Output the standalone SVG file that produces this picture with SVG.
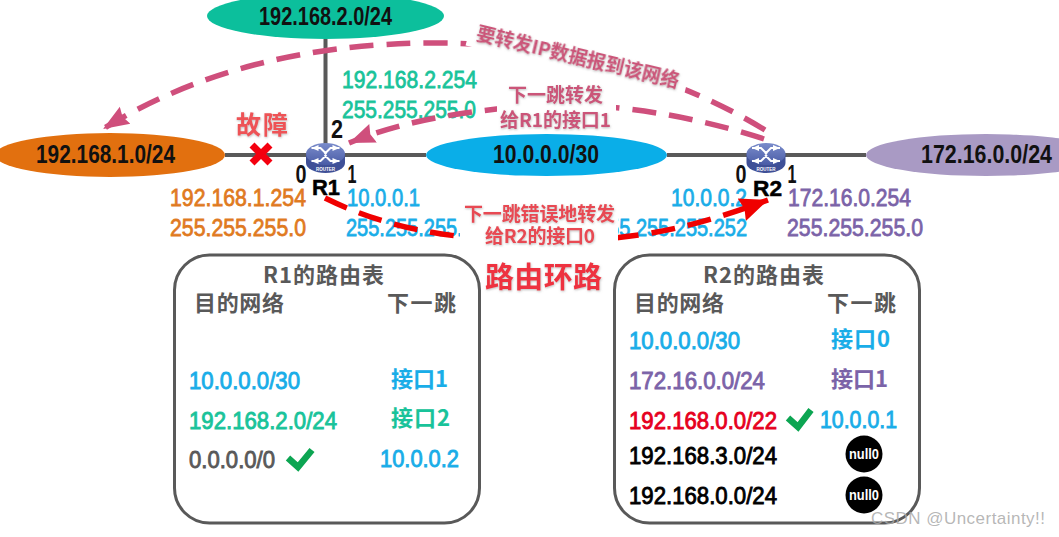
<svg xmlns="http://www.w3.org/2000/svg" width="1059" height="537" viewBox="0 0 1059 537">
<style>
text{font-family:"Liberation Sans","Noto Sans CJK SC",sans-serif}
.net{font-size:25px;font-weight:700;fill:#111;text-anchor:start}
.ip{font-size:24px;stroke-width:.8px}
.t{font-size:24px;stroke-width:.9px}
.cjk{font-family:"Noto Sans CJK SC","Liberation Sans",sans-serif;font-weight:700;stroke-width:.15px}
.hd{font-size:22px;fill:#595959}
.port{font-size:25px;font-weight:700;fill:#111}
.rn{font-size:22px;font-weight:700;fill:#000}
.link{stroke:#595959;stroke-width:4;fill:none}
.dp{stroke:#cf4f7c;stroke-width:5.5;fill:none;stroke-dasharray:24 13}
.dr{stroke:#f00000;stroke-width:5.5;fill:none;stroke-dasharray:24 13}
.lab{font-size:19px;fill:#cb5579;filter:url(#sh)}
.labr{font-size:19px;fill:#e84a52;filter:url(#sh)}
.box{fill:#fff;stroke:#595959;stroke-width:3}
.g{fill:#19c39a;stroke:#19c39a}.o{fill:#e07a1f;stroke:#e07a1f}.b{fill:#19ade8;stroke:#19ade8}.p{fill:#7b63a8;stroke:#7b63a8}
.gy{fill:#595959;stroke:#595959}.r{fill:#e6001e;stroke:#e6001e}.k{fill:#000;stroke:#000}
.chk{fill:none;stroke:#0ca552;stroke-width:6.5}
</style>
<defs>
<filter id="sh" x="-10%" y="-20%" width="120%" height="150%"><feDropShadow dx="0.5" dy="1" stdDeviation="1" flood-color="#888" flood-opacity=".55"/></filter>
<linearGradient id="rg" x1="0" y1="0" x2="0" y2="1"><stop offset="0" stop-color="#7a8ccb"/><stop offset="1" stop-color="#4a5ca6"/></linearGradient>
<marker id="ap" markerUnits="userSpaceOnUse" markerWidth="28" markerHeight="22" refX="26" refY="11" orient="auto"><path d="M0 1L26 11L0 21L3 11Z" fill="#cf4f7c"/></marker>
<marker id="ar" markerUnits="userSpaceOnUse" markerWidth="30" markerHeight="26" refX="28" refY="13" orient="auto"><path d="M0 1L28 13L0 25L3 13Z" fill="#f00000"/></marker>
<g id="router">
<path d="M-19.5 -3V6A19.5 10 0 0 0 19.5 6V-3Z" fill="#3f5097"/>
<ellipse cx="0" cy="-3" rx="19.5" ry="11" fill="url(#rg)"/>
<path d="M-14 -9H-5L-3 -7L1 -3M14 -9H5L3 -7L-1 -3M-14 4H-5L-3 2L1 -2M14 4H5L3 2L-1 -2" fill="none" stroke="#fff" stroke-width="2"/>
<path d="M-7 -12L-14 -9L-7 -6ZM7 -12L14 -9L7 -6ZM-7 1L-14 4L-7 7ZM7 1L14 4L7 7Z" fill="#fff"/>
<text x="0" y="14" font-size="4.500" font-weight="700" fill="#fff" text-anchor="middle">ROUTER</text>
</g>
</defs>
<rect width="1059" height="537" fill="#fff"/>
<g id="connectors">
<path class="link" d="M225 155H426M667 155H866M325.500 39V150"/>
</g>
<g id="net-green"><ellipse cx="325.500" cy="16" rx="118.500" ry="23" fill="#0cbf9c"/><text class="net" x="259" y="25" textLength="133" lengthAdjust="spacingAndGlyphs">192.168.2.0/24</text></g>
<g id="net-orange"><ellipse cx="110" cy="155" rx="115" ry="22" fill="#e2700f"/><text class="net" x="36" y="163" textLength="139" lengthAdjust="spacingAndGlyphs">192.168.1.0/24</text></g>
<g id="net-blue"><ellipse cx="546.500" cy="155" rx="120.500" ry="21" fill="#0aaee8"/><text class="net" x="493" y="163" textLength="106" lengthAdjust="spacingAndGlyphs">10.0.0.0/30</text></g>
<g id="net-purple"><ellipse cx="986" cy="155" rx="120" ry="21" fill="#a99ac4"/><text class="net" x="921" y="163" textLength="131" lengthAdjust="spacingAndGlyphs">172.16.0.0/24</text></g>
<g id="fault">
<path d="M252 145L270 163M270 145L252 163" stroke="#f4000f" stroke-width="7" fill="none"/>
<text class="cjk" x="236" y="134" font-size="25" fill="#ee5257" textLength="52" filter="url(#sh)">故障</text>
</g>
<g id="R1"><use href="#router" x="325.500" y="157"/>
<text class="port" x="337" y="138" text-anchor="middle" textLength="12" lengthAdjust="spacingAndGlyphs">2</text>
<text class="port" x="301" y="183" text-anchor="middle" textLength="11" lengthAdjust="spacingAndGlyphs">0</text>
<text class="port" x="352" y="183" text-anchor="middle" textLength="9" lengthAdjust="spacingAndGlyphs">1</text>
<text class="rn" x="312" y="195" textLength="28" lengthAdjust="spacingAndGlyphs" stroke="#000" stroke-width=".5">R1</text></g>
<g id="R2"><use href="#router" x="766" y="157"/>
<text class="port" x="741" y="183" text-anchor="middle" textLength="11" lengthAdjust="spacingAndGlyphs">0</text>
<text class="port" x="792" y="183" text-anchor="middle" textLength="9" lengthAdjust="spacingAndGlyphs">1</text>
<text class="rn" x="753" y="196" textLength="29" lengthAdjust="spacingAndGlyphs" stroke="#000" stroke-width=".5">R2</text></g>
<g id="addresses">
<text class="ip g" x="342" y="88" textLength="135" lengthAdjust="spacingAndGlyphs">192.168.2.254</text>
<text class="ip g" x="342" y="118" textLength="134" lengthAdjust="spacingAndGlyphs">255.255.255.0</text>
<text class="ip o" x="170" y="206" textLength="136" lengthAdjust="spacingAndGlyphs">192.168.1.254</text>
<text class="ip o" x="170" y="236" textLength="136" lengthAdjust="spacingAndGlyphs">255.255.255.0</text>
<text class="ip b" x="347" y="206" textLength="73" lengthAdjust="spacingAndGlyphs">10.0.0.1</text>
<text class="ip b" x="346" y="236" textLength="150" lengthAdjust="spacingAndGlyphs">255.255.255.252</text>
<text class="ip b" x="671" y="206" textLength="76" lengthAdjust="spacingAndGlyphs">10.0.0.2</text>
<text class="ip b" x="597" y="236" textLength="150" lengthAdjust="spacingAndGlyphs">255.255.255.252</text>
<text class="ip p" x="788" y="206" textLength="123" lengthAdjust="spacingAndGlyphs">172.16.0.254</text>
<text class="ip p" x="787" y="236" textLength="136" lengthAdjust="spacingAndGlyphs">255.255.255.0</text>
</g>
<g id="flows">
<path class="dp" marker-end="url(#ap)" d="M765 130C680 78 570 43 435 43C300 43 190 75 103 129"/>
<path class="dp" marker-end="url(#ap)" d="M764 139C690 115 620 105 560 105C480 108 410 118 349 143"/>
<path class="dr" marker-end="url(#ar)" d="M325 198C380 225 440 240 540 241C640 242 700 225 768 200"/>
</g>
<g id="label-forward">
<g transform="translate(578 57) rotate(13.500)"><rect x="-112" y="-15" width="224" height="30" fill="#fff"/><text class="cjk lab" x="-104" y="7" textLength="208">要转发IP数据报到该网络</text></g>
</g>
<g id="label-r1">
<rect x="497" y="84" width="119" height="48" fill="#fff"/>
<text class="cjk lab" x="508" y="102" textLength="95">下一跳转发</text>
<text class="cjk lab" x="500" y="127" textLength="111">给R1的接口1</text>
</g>
<g id="label-r2">
<rect x="460" y="202" width="158" height="48" fill="#fff"/>
<text class="cjk labr" x="464" y="221" textLength="151">下一跳错误地转发</text>
<text class="cjk labr" x="485" y="243" textLength="110">给R2的接口0</text>
</g>
<g id="table-r1">
<rect class="box" x="174.500" y="255" width="305" height="268" rx="35"/>
<text class="cjk hd" x="263" y="283" textLength="121">R1的路由表</text>
<text class="cjk hd" x="194" y="311" textLength="90">目的网络</text>
<text class="cjk hd" x="387" y="311" textLength="69">下一跳</text>
<text class="t b" x="189" y="389" textLength="111" lengthAdjust="spacingAndGlyphs">10.0.0.0/30</text>
<text class="cjk b" x="391" y="387" font-size="22" textLength="57">接口1</text>
<text class="t g" x="189" y="429" textLength="148" lengthAdjust="spacingAndGlyphs">192.168.2.0/24</text>
<text class="cjk g" x="391" y="426" font-size="22" textLength="59">接口2</text>
<text class="t gy" x="189" y="468" textLength="86" lengthAdjust="spacingAndGlyphs">0.0.0.0/0</text>
<path class="chk" d="M288 458L298 467L312 450"/>
<text class="t b" x="380" y="467" textLength="79" lengthAdjust="spacingAndGlyphs">10.0.0.2</text>
</g>
<g id="table-r2">
<rect class="box" x="614.500" y="255" width="305" height="268" rx="35"/>
<text class="cjk hd" x="703" y="283" textLength="121">R2的路由表</text>
<text class="cjk hd" x="634" y="311" textLength="90">目的网络</text>
<text class="cjk hd" x="827" y="311" textLength="69">下一跳</text>
<text class="t b" x="629" y="349" textLength="111" lengthAdjust="spacingAndGlyphs">10.0.0.0/30</text>
<text class="cjk b" x="831" y="347" font-size="22" textLength="59">接口0</text>
<text class="t p" x="629" y="389" textLength="136" lengthAdjust="spacingAndGlyphs">172.16.0.0/24</text>
<text class="cjk p" x="831" y="387" font-size="22" textLength="57">接口1</text>
<text class="t r" x="629" y="429" textLength="148" lengthAdjust="spacingAndGlyphs">192.168.0.0/22</text>
<path class="chk" d="M788 418L798 427L811 410"/>
<text class="t b" x="820" y="428" textLength="77" lengthAdjust="spacingAndGlyphs">10.0.0.1</text>
<text class="t k" x="629" y="464" textLength="148" lengthAdjust="spacingAndGlyphs">192.168.3.0/24</text>
<circle cx="864" cy="454" r="18.500" fill="#000"/>
<text x="849" y="459" font-size="14" font-weight="700" fill="#fff" textLength="30" lengthAdjust="spacingAndGlyphs">null0</text>
<text class="t k" x="629" y="504" textLength="148" lengthAdjust="spacingAndGlyphs">192.168.0.0/24</text>
<circle cx="864" cy="495" r="18.500" fill="#000"/>
<text x="849" y="500" font-size="14" font-weight="700" fill="#fff" textLength="30" lengthAdjust="spacingAndGlyphs">null0</text>
</g>
<g id="title-loop"><text class="cjk" x="485" y="288" font-size="29" fill="#ee3340" textLength="117" filter="url(#sh)">路由环路</text></g>
<text x="871" y="524" font-size="17" fill="#aaa" fill-opacity=".85" textLength="174">CSDN @Uncertainty!!</text>
</svg>
